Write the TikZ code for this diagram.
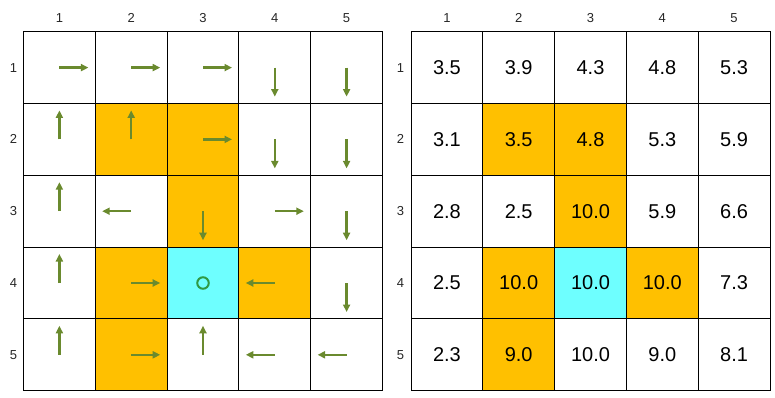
\documentclass[tikz,border=0pt]{standalone}
\usepackage{fontspec}
\setmainfont{Liberation Sans}
\usetikzlibrary{arrows.meta}
\definecolor{gold}{HTML}{FFC000}
\definecolor{aqua}{HTML}{6EFFFF}
\definecolor{arrgreen}{HTML}{6A8A2E}
\definecolor{circgreen}{HTML}{2F9A45}
\begin{document}
\begin{tikzpicture}[x=1pt,y=-1pt,
  cell/.style={draw=black, line width=0.9pt, minimum width=71.8pt, minimum height=71.8pt, inner sep=0pt, outer sep=0pt, anchor=north west},
  val/.style={font=\fontsize{20}{24}\selectfont},
  lab/.style={font=\fontsize{13}{15}\selectfont, text=black!85},
  arr/.style={draw=arrgreen, line width=2.4pt, -{Triangle[length=7.5pt,width=7pt]}}]
\useasboundingbox (0,0) rectangle (775,398);
% fills
\foreach \g/\xo in {L/23.5,R/411}{
  \foreach \r/\c/\col in {2/2/gold,2/3/gold,3/3/gold,4/2/gold,4/3/aqua,4/4/gold,5/2/gold}{
    \fill[\col] ({\xo+(\c-1)*71.8},{31.7+(\r-1)*71.8}) rectangle ++(71.8,71.8);
  }
}
% left grid
\foreach \r in {1,...,5}{
  \foreach \c in {1,...,5}{
    \node[cell] (L-\r-\c) at ({23.5+(\c-1)*71.8},{31.7+(\r-1)*71.8}) {};
  }
}
% right grid
\foreach \r/\c/\v in {1/1/3.5,1/2/3.9,1/3/4.3,1/4/4.8,1/5/5.3,
                      2/1/3.1,2/2/3.5,2/3/4.8,2/4/5.3,2/5/5.9,
                      3/1/2.8,3/2/2.5,3/3/10.0,3/4/5.9,3/5/6.6,
                      4/1/2.5,4/2/10.0,4/3/10.0,4/4/10.0,4/5/7.3,
                      5/1/2.3,5/2/9.0,5/3/10.0,5/4/9.0,5/5/8.1}{
  \node[cell] (R-\r-\c) at ({411+(\c-1)*71.8},{31.7+(\r-1)*71.8}) {};
  \node[val] (V-\r-\c) at (R-\r-\c.center) {\v};
}
% labels
\foreach \i in {1,...,5}{
  \node[lab] (LC-\i) at ({59.4+(\i-1)*71.8},18) {\i};
  \node[lab] (LR-\i) at (13.5,{67.6+(\i-1)*71.8}) {\i};
  \node[lab] (RC-\i) at ({446.9+(\i-1)*71.8},18) {\i};
  \node[lab] (RR-\i) at (400.5,{67.6+(\i-1)*71.8}) {\i};
}
% arrows
\foreach \r/\c/\dx/\dy in {1/1/29/0,1/2/29/0,1/3/29/0,1/4/0/29,1/5/0/29,
                           2/1/0/-29,2/2/0/-29,2/3/29/0,2/4/0/29,2/5/0/29,
                           3/1/0/-29,3/2/-29/0,3/3/0/29,3/4/29/0,3/5/0/29,
                           4/1/0/-29,4/2/29/0,4/4/-29/0,4/5/0/29,
                           5/1/0/-29,5/2/29/0,5/3/0/-29,5/4/-29/0,5/5/-29/0}{
  \draw[arr] (L-\r-\c.center) -- ++(\dx,\dy);
}
\node[circle, draw=circgreen, line width=2pt, minimum size=11.5pt, inner sep=0pt] (goal) at (L-4-3.center) {};
\end{tikzpicture}
\end{document}
